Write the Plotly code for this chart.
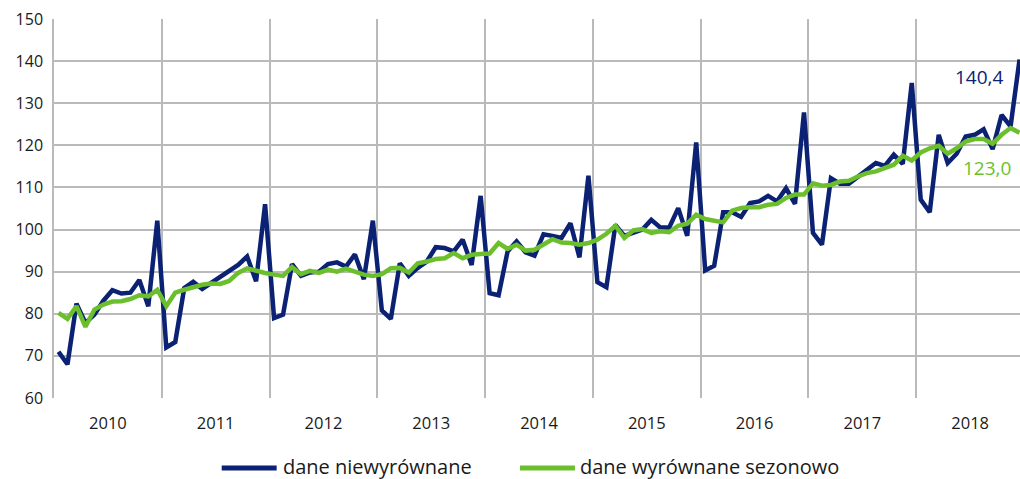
import plotly.graph_objects as go

years = ["2010", "2011", "2012", "2013", "2014", "2015", "2016", "2017", "2018"]

niewyrownane = [
    71.0, 68.0, 82.4, 77.8, 79.8, 83.1, 85.6, 84.8, 85.0, 88.0, 81.8, 102.1,
    72.0, 73.3, 86.1, 87.6, 85.9, 87.4, 88.7, 90.3, 91.6, 93.6, 87.7, 106.0,
    79.0, 79.8, 91.8, 89.0, 89.8, 90.0, 91.8, 92.2, 91.2, 94.1, 88.2, 102.1,
    80.8, 78.8, 92.0, 89.0, 90.9, 92.4, 95.8, 95.6, 94.8, 97.6, 91.6, 108.0,
    84.9, 84.4, 94.8, 97.2, 94.6, 93.8, 98.9, 98.5, 98.0, 101.5, 93.4, 112.8,
    87.5, 86.3, 101.1, 98.5, 99.2, 100.0, 102.3, 100.5, 100.5, 105.1, 98.5, 120.7,
    90.3, 91.4, 104.1, 104.1, 103.0, 106.3, 106.7, 108.0, 106.7, 109.8, 106.1, 127.8,
    99.2, 96.4, 112.2, 110.9, 110.9, 112.6, 114.0, 115.8, 115.1, 117.8, 115.6, 134.8,
    107.1, 104.1, 122.5, 115.8, 118.0, 122.1, 122.5, 123.8, 119.1, 127.2, 124.5, 140.4,
]

wyrownane_sezonowo = [
    80.2, 78.8, 81.8, 76.9, 81.0, 82.2, 82.9, 83.0, 83.5, 84.4, 84.1, 85.7,
    81.8, 85.0, 85.7, 86.4, 86.9, 87.2, 87.1, 87.8, 89.7, 90.8, 90.2, 89.7,
    89.3, 89.0, 91.1, 89.4, 90.2, 89.7, 90.5, 90.0, 90.7, 90.1, 89.3, 89.0,
    89.4, 90.8, 90.9, 89.8, 92.0, 92.4, 93.0, 93.2, 94.4, 93.2, 94.0, 94.2,
    94.3, 96.8, 95.4, 96.4, 95.0, 95.2, 96.4, 97.7, 96.9, 96.8, 96.4, 96.8,
    97.6, 99.0, 100.9, 98.0, 99.8, 100.1, 99.2, 99.6, 99.4, 100.9, 101.4, 103.5,
    102.5, 102.2, 101.7, 104.5, 105.1, 105.3, 105.3, 105.9, 106.1, 107.5, 108.3, 108.3,
    111.0, 110.4, 110.6, 111.4, 111.6, 112.6, 113.4, 113.8, 114.6, 115.4, 117.5, 116.4,
    118.3, 119.3, 119.9, 118.0, 119.3, 120.9, 121.5, 121.5, 120.4, 122.5, 124.1, 123.0,
]

y_ticks = [60, 70, 80, 90, 100, 110, 120, 130, 140, 150]

names = ["dane niewyrównane", "dane wyrównane sezonowo"]
BLUE = "#0b2174"
GREEN = "#6cbf2c"
GRID = "#bababa"
FONT = "Open Sans"

n = len(niewyrownane)
x = list(range(n))

fig = go.Figure()
fig.add_trace(go.Scatter(x=x, y=niewyrownane, mode="lines", name=names[0],
                         line=dict(color=BLUE, width=4.5), showlegend=False))
fig.add_trace(go.Scatter(x=x, y=wyrownane_sezonowo, mode="lines", name=names[1],
                         line=dict(color=GREEN, width=4.5), showlegend=False))

year_centers = [12 * k + 5.5 for k in range(len(years))]
year_bounds = [12 * k - 0.5 for k in range(len(years) + 1)]

fig.update_layout(
    width=1020, height=479,
    margin=dict(l=54, r=0, t=19, b=81),
    paper_bgcolor="white", plot_bgcolor="white",
    font=dict(family=FONT, size=16, color="#1a1a1a"),
    xaxis=dict(
        range=[-0.5, 107.05],
        tickmode="array", tickvals=year_centers, ticktext=years,
        showgrid=False, zeroline=False, ticks="", ticklabelstandoff=13,
        tickfont=dict(size=16.5),
        minor=dict(tickmode="array", tickvals=year_bounds, showgrid=True,
                   gridcolor=GRID, gridwidth=1.5, ticks=""),
    ),
    yaxis=dict(
        range=[60, 150], tickmode="array", tickvals=y_ticks,
        showgrid=True, gridcolor=GRID, gridwidth=1.5, zeroline=False,
        showline=True, linecolor=GRID, linewidth=1.5,
        ticks="", ticklabelstandoff=6,
    ),
)

# end-value labels
fig.add_annotation(x=0.9855, y=0.847, xref="paper", yref="paper", xanchor="right",
                   yanchor="middle", text=f"{niewyrownane[-1]:.1f}".replace(".", ","),
                   showarrow=False, font=dict(family=FONT, size=19, color=BLUE))
fig.add_annotation(x=0.9928, y=0.607, xref="paper", yref="paper", xanchor="right",
                   yanchor="middle", text=f"{wyrownane_sezonowo[-1]:.1f}".replace(".", ","),
                   showarrow=False, font=dict(family=FONT, size=19, color=GREEN))

# legend drawn below the plot
legend_items = [(0.1736, 0.2305, 0.2357, names[0], BLUE),
                (0.4824, 0.5393, 0.5435, names[1], GREEN)]
ly_line = -0.1847
ly_text = -0.1820
for x0, x1, xt, label, col in legend_items:
    fig.add_shape(type="line", xref="paper", yref="paper", x0=x0, x1=x1,
                  y0=ly_line, y1=ly_line, line=dict(color=col, width=5))
    fig.add_annotation(x=xt, y=ly_text, xref="paper", yref="paper", xanchor="left",
                       yanchor="middle", text=label, showarrow=False, borderpad=0,
                       font=dict(family=FONT, size=20, color="#1a1a1a"))

fig.write_html(
    "out.html",
    config={"displayModeBar": False},
    post_script="document.body.style.margin='0';document.body.style.overflow='hidden';",
)
